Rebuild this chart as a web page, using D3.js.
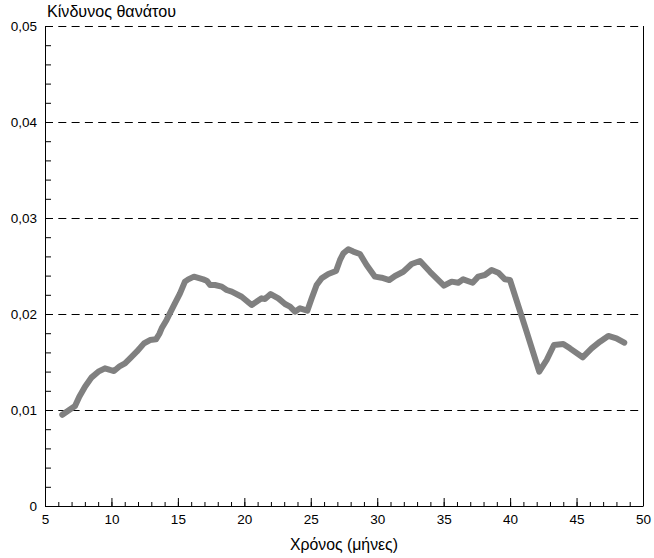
<!DOCTYPE html>
<html>
<head>
<meta charset="utf-8">
<script src="https://cdn.jsdelivr.net/npm/d3@7"></script>
<style>
  body { margin: 0; background: #fff; }
  text { font-family: "Liberation Sans", Arial, sans-serif; }
</style>
</head>
<body>
<svg id="chart" width="654" height="558"></svg>
<script>
// months of follow-up and hazard of death
const months = [6.3, 6.63, 7.26, 7.58, 8.01, 8.51, 9.01, 9.51, 9.89, 10.19, 10.64, 11.02, 11.4, 11.9,
  12.45, 12.9, 13.35, 13.6, 13.78, 14.15, 14.65, 15.16, 15.53, 15.78, 16.21, 16.91, 17.17, 17.42,
  17.79, 18.3, 18.67, 19.05, 19.8, 20.55, 21.3, 21.55, 21.98, 22.56, 23.06, 23.44, 23.81, 24.19,
  24.74, 25.07, 25.44, 25.82, 26.32, 26.9, 27.2, 27.45, 27.82, 28.2, 28.7, 29.2, 29.83, 30.33,
  30.91, 31.34, 31.96, 32.59, 33.22, 33.97, 35.02, 35.6, 36.1, 36.47, 37.18, 37.6, 38.1, 38.61,
  39.11, 39.61, 39.99, 41.12, 42.19, 42.75, 43.3, 44.0, 44.5, 45.46, 46.13, 46.76, 47.39, 48.0, 48.59];
const hazard = [0.0095, 0.00982, 0.01042, 0.01139, 0.01243, 0.0134, 0.01399, 0.01434, 0.01417, 0.01406,
  0.01458, 0.01486, 0.01538, 0.01607, 0.01694, 0.01729, 0.01736, 0.01792, 0.01851, 0.01938, 0.02076,
  0.02215, 0.02337, 0.02361, 0.02389, 0.02361, 0.02347, 0.02302, 0.02302, 0.02285, 0.0225, 0.02233,
  0.0218, 0.02094, 0.02163, 0.02156, 0.02208, 0.02163, 0.02104, 0.02076, 0.02024, 0.02059, 0.02035,
  0.02163, 0.02302, 0.02372, 0.02417, 0.02448, 0.02563, 0.02632, 0.02674, 0.0265, 0.02625, 0.0251,
  0.02389, 0.02378, 0.02354, 0.02396, 0.0244, 0.02521, 0.02552, 0.0244, 0.02295, 0.02337, 0.02326,
  0.02361, 0.02326, 0.02389, 0.02406, 0.02458, 0.0243, 0.02361, 0.02354, 0.01868, 0.01399, 0.01521,
  0.01677, 0.01688, 0.01642, 0.01549, 0.01642, 0.01712, 0.01771, 0.01747, 0.01701];
const yGrid = [0.01, 0.02, 0.03, 0.04, 0.05];
const yLabels = ["0", "0,01", "0,02", "0,03", "0,04", "0,05"];
const yTitle = "Κίνδυνος θανάτου";
const xTitle = "Χρόνος (μήνες)";

var svg = d3.select("#chart");
var margin = {top: 26, right: 11, bottom: 52, left: 45};
var width = +svg.attr("width") - margin.left - margin.right,
    height = +svg.attr("height") - margin.top - margin.bottom;
var g = svg.append("g").attr("transform", "translate(" + margin.left + "," + margin.top + ")");

var x = d3.scaleLinear().domain([5, 50]).range([0, width]);
var y = d3.scaleLinear().domain([0, 0.05]).range([height, 0]);

// dashed grid
g.selectAll(".grid").data(yGrid).enter().append("line")
  .attr("x1", 0).attr("x2", width)
  .attr("y1", d => y(d) + 0.5).attr("y2", d => y(d) + 0.5)
  .attr("stroke", "#000").attr("stroke-width", 1)
  .attr("stroke-dasharray", "8,5.3");

// right border
g.append("line").attr("x1", width + 0.5).attr("x2", width + 0.5)
  .attr("y1", 0).attr("y2", height).attr("stroke", "#000");

// x axis, ticks pointing inward
var xMinor = g.append("g").attr("transform", "translate(0," + height + ")")
  .call(d3.axisTop(x).ticks(45).tickSize(4).tickFormat(""));
xMinor.select(".domain").remove();
var xAxis = g.append("g").attr("transform", "translate(0," + height + ")")
  .call(d3.axisTop(x).tickValues(d3.range(5, 51, 5)).tickSize(8).tickFormat(d3.format("d")));
xAxis.select(".domain").attr("d", "M0.5,0.5H" + (width + 0.5));
xAxis.selectAll("text").attr("y", 18).attr("dy", 0).attr("font-size", 13.5)
  .attr("font-family", "Liberation Sans, Arial, sans-serif").attr("fill", "#000");

// y axis
var yMinor = g.append("g")
  .call(d3.axisRight(y).tickValues(d3.range(0, 0.0501, 0.002)).tickSize(6).tickFormat(""));
yMinor.select(".domain").remove();
var yAxis = g.append("g")
  .call(d3.axisLeft(y).tickValues(d3.range(0, 0.0501, 0.01)).tickSize(0)
    .tickFormat((d, i) => yLabels[i]));
yAxis.select(".domain").attr("d", "M0.5,0V" + (height + 0.5));
yAxis.selectAll("text").attr("x", -8).attr("font-size", 13.5)
  .attr("font-family", "Liberation Sans, Arial, sans-serif").attr("fill", "#000");

// hazard curve
var line = d3.line().x(d => x(d[0])).y(d => y(d[1])).curve(d3.curveLinear);
g.append("path")
  .datum(d3.zip(months, hazard))
  .attr("fill", "none")
  .attr("stroke", "#808080")
  .attr("stroke-width", 6)
  .attr("stroke-linejoin", "round")
  .attr("stroke-linecap", "round")
  .attr("d", line);

// titles, sized so their width matches the original
function fitText(t, target) {
  var w = t.node().getComputedTextLength();
  if (w > 0) t.attr("font-size", +t.attr("font-size") * target / w);
}
var yt = svg.append("text").attr("x", 47).attr("y", 17).attr("font-size", 15).text(yTitle);
fitText(yt, 129);
var xt = svg.append("text").attr("x", margin.left + width / 2).attr("y", 550)
  .attr("text-anchor", "middle").attr("font-size", 15).text(xTitle);
fitText(xt, 108);
</script>
</body>
</html>
